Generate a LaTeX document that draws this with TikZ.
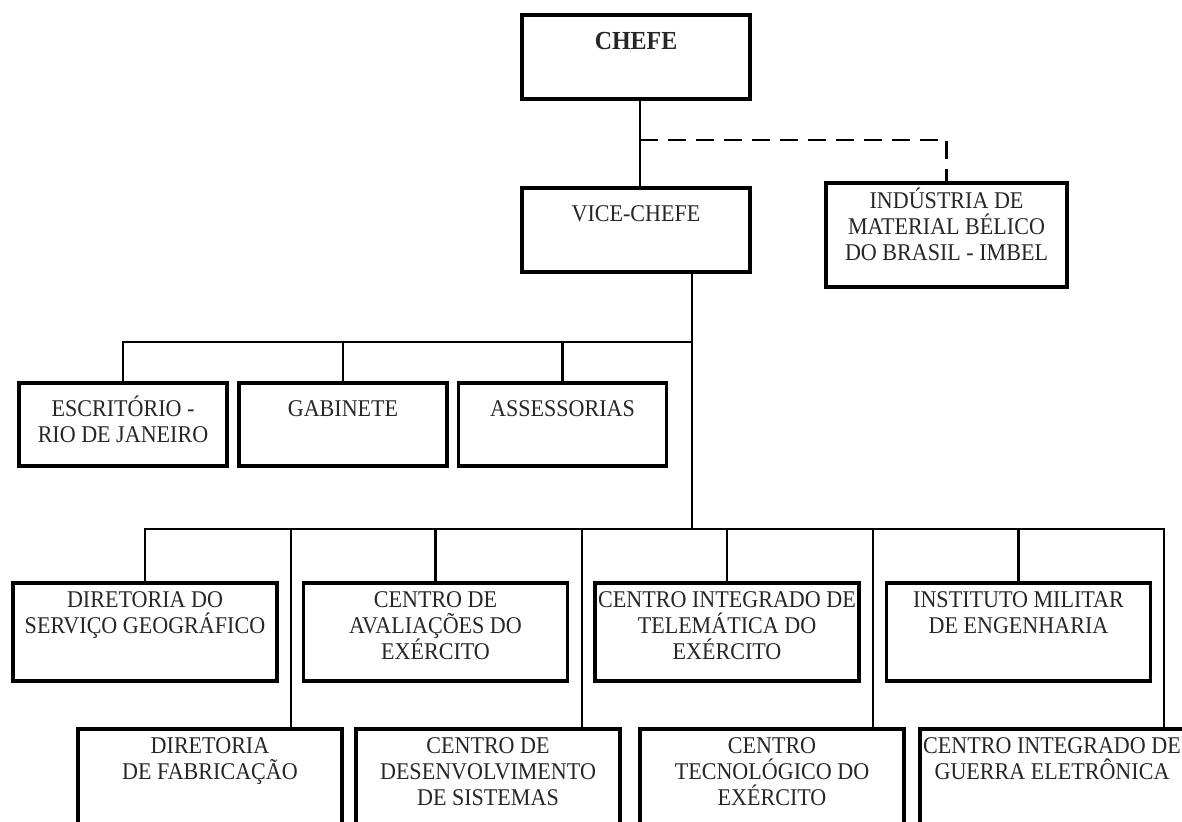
\documentclass[tikz,border=0pt]{standalone}
\usepackage{fontspec}
\setmainfont{Liberation Serif}[FakeStretch=0.92]

\tikzset{
  orgbox/.style={draw, line width=3.3pt, inner sep=0pt, minimum width=#1},
  boxtext/.style={anchor=north, align=center, inner sep=0pt, text=black!85,
    font=\fontsize{24}{26}\selectfont},
  unitbox/.style={orgbox=264pt, minimum height=98pt,
    label={[boxtext,yshift=-3.6pt]north:\rule{0pt}{22pt}#1}},
  lowbox/.style={orgbox=264pt, minimum height=120pt,
    label={[boxtext,yshift=-3.6pt]north:\rule{0pt}{22pt}#1}},
  staffbox/.style={orgbox=208pt, minimum height=83pt,
    label={[boxtext,yshift=-12.6pt]north:\rule{0pt}{22pt}#1}},
  link/.style={line width=2.6pt}
}

\begin{document}
\begin{tikzpicture}[x=1pt,y=-1pt]
\useasboundingbox (0,0) rectangle (1182,821);
\clip (0,0) rectangle (1182,821);

% top
\node[orgbox=228pt, minimum height=84pt,
  label={[boxtext,yshift=-13.6pt,font=\fontsize{26}{26}\selectfont\bfseries]north:\rule{0pt}{22pt}CHEFE}] (chefe) at (636,57) {};
\node[orgbox=228pt, minimum height=84pt,
  label={[boxtext,yshift=-12.6pt]north:\rule{0pt}{22pt}VICE-CHEFE}] (vice) at (636,230) {};
\node[orgbox=241pt, minimum height=104pt,
  label={[boxtext,yshift=-4.6pt]north:\rule{0pt}{22pt}INDÚSTRIA DE\\MATERIAL BÉLICO\\DO BRASIL - IMBEL}] (imbel) at (946.5,235) {};

% staff
\node[staffbox={ESCRITÓRIO -\\RIO DE JANEIRO}] (esc) at (123,424.5) {};
\node[staffbox=GABINETE] (gab) at (343,424.5) {};
\node[staffbox=ASSESSORIAS] (ass) at (562.5,424.5) {};

% units
\node[unitbox={DIRETORIA DO\\SERVIÇO GEOGRÁFICO}] (dsg) at (145,632) {};
\node[unitbox={CENTRO DE\\AVALIAÇÕES DO\\EXÉRCITO}] (caex) at (435.5,632) {};
\node[unitbox={CENTRO INTEGRADO DE\\TELEMÁTICA DO\\EXÉRCITO}] (citex) at (727,632) {};
\node[unitbox={INSTITUTO MILITAR\\DE ENGENHARIA}] (ime) at (1018.5,632) {};

\node[lowbox={DIRETORIA\\DE FABRICAÇÃO}] (df) at (210,789) {};
\node[lowbox={CENTRO DE\\DESENVOLVIMENTO\\DE SISTEMAS}] (cds) at (488,789) {};
\node[lowbox={CENTRO\\TECNOLÓGICO DO\\EXÉRCITO}] (ctex) at (772,789) {};
\node[lowbox={CENTRO INTEGRADO DE\\GUERRA ELETRÔNICA}] (cige) at (1052,789) {};

\coordinate (split) at (640,140);
\coordinate (bus1) at (692,342);
\coordinate (bus2) at (692,529);

\draw[link] (chefe.south -| split) -- (vice.north -| split);
\draw[link, dash pattern=on 18pt off 10pt] (split) -| (imbel.north);
\draw[link] (vice.south -| bus2) -- (bus2);

\foreach \n in {esc,gab,ass}
    \draw[link] (bus1) -| (\n.north);
\foreach \n in {dsg,caex,citex,ime}
    \draw[link] (bus2) -| (\n.north);
\foreach \n/\x in {df/291,cds/582,ctex/873,cige/1164}
    \draw[link] (bus2) -| (\x,0 |- \n.north);

\end{tikzpicture}
\end{document}
